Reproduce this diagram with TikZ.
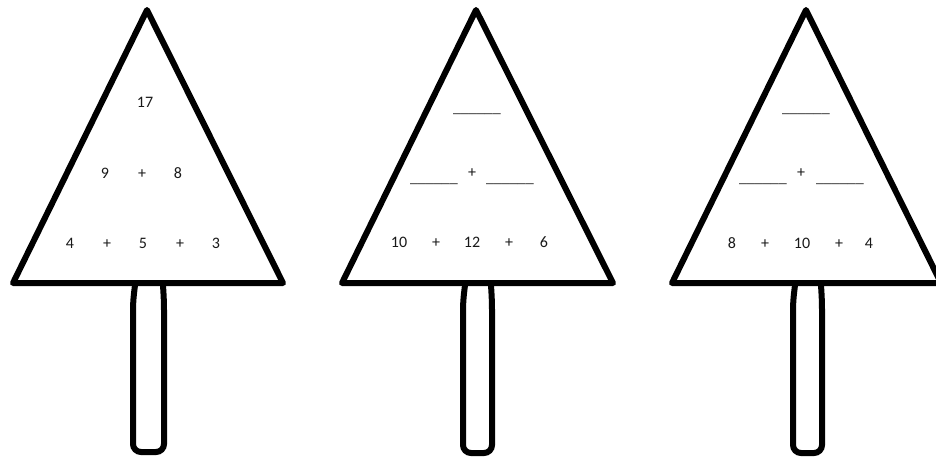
\documentclass[tikz,border=0pt]{standalone}
\usepackage{fontspec}
\setmainfont{Carlito}
\begin{document}
\begin{tikzpicture}[x=1pt,y=-1pt,
  outline/.style={line width=6pt, line join=round, line cap=round},
  stick/.style={line width=6pt, line cap=round, rounded corners=8pt},
  lbl/.style={anchor=base, inner sep=0pt, font=\fontsize{16}{19}\selectfont, text=black!90},
  blank/.style={lbl, text=black!80}]
\useasboundingbox (0,0) rectangle (936,458);
\fill[white] (0,0) rectangle (936,458);
% triangle 1
\draw[outline] (147,10) -- (283,283) -- (13,283) -- cycle;
\draw[stick] (135,285) -- (133,302) -- (133,452) -- (164,452) -- (164,302) -- (163,285);
\node[lbl] (a1) at (145,107) {17};
\node[lbl] (a2) at (105,178) {9};
\node[lbl] (a3) at (142,178) {+};
\node[lbl] (a4) at (178,178) {8};
\node[lbl] (a5) at (70,248) {4};
\node[lbl] (a6) at (107,248) {+};
\node[lbl] (a7) at (143,248) {5};
\node[lbl] (a8) at (180,248) {+};
\node[lbl] (a9) at (216,248) {3};
% triangle 2
\draw[outline] (476,10) -- (613,283) -- (342,283) -- cycle;
\draw[stick] (465,285) -- (463,302) -- (463,453) -- (492,453) -- (492,302) -- (491,285);
\node[blank] (b1) at (477,112) {\_\_\_\_\_\_};
\node[blank] (b2) at (434,182) {\_\_\_\_\_\_};
\node[lbl] (b3) at (472,177) {+};
\node[blank] (b4) at (510,182) {\_\_\_\_\_\_};
\node[lbl] (b5) at (399,247) {10};
\node[lbl] (b6) at (436,247) {+};
\node[lbl] (b7) at (472,247) {12};
\node[lbl] (b8) at (509,247) {+};
\node[lbl] (b9) at (544,247) {6};
% triangle 3
\draw[outline] (806,10) -- (941,283) -- (672,283) -- cycle;
\draw[stick] (795,285) -- (793,302) -- (793,453) -- (822,453) -- (822,302) -- (821,285);
\node[blank] (c1) at (806,112) {\_\_\_\_\_\_};
\node[blank] (c2) at (763,182) {\_\_\_\_\_\_};
\node[lbl] (c3) at (801,177) {+};
\node[blank] (c4) at (840,182) {\_\_\_\_\_\_};
\node[lbl] (c5) at (732,248) {8};
\node[lbl] (c6) at (765,248) {+};
\node[lbl] (c7) at (802,248) {10};
\node[lbl] (c8) at (839,248) {+};
\node[lbl] (c9) at (869,248) {4};
\end{tikzpicture}
\end{document}
